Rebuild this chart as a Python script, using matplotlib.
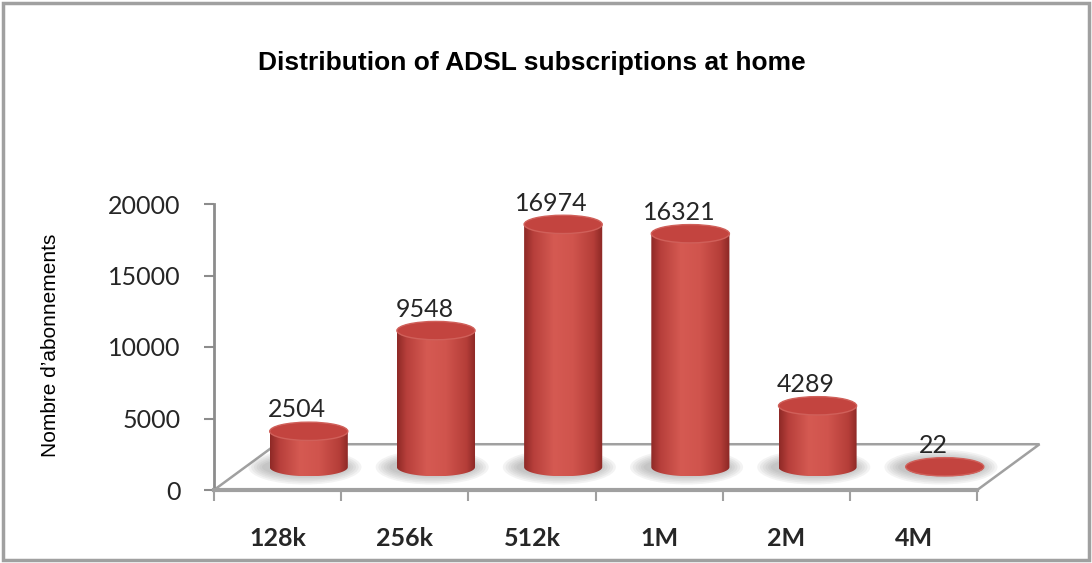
import numpy as np
import matplotlib
import matplotlib.pyplot as plt
from matplotlib.patches import Ellipse, Polygon, Rectangle
from matplotlib.colors import LinearSegmentedColormap

matplotlib.use("Agg")

speeds = ["128k", "256k", "512k", "1M", "2M", "4M"]
subscriptions = [2504, 9548, 16974, 16321, 4289, 22]
y_ticks = [0, 5000, 10000, 15000, 20000]

title = "Distribution of ADSL subscriptions at home"
ylabel = "Nombre d\u2019abonnements"

W, H = 1092, 563
px_per_cat = 127.2
xmin, xmax = -0.5, 6.1
ymax = 20000

# floor depth (in data units) and cylinder geometry
depth_x = 0.49
depth_y = 3200
cyl_halfw = 0.307
cyl_halfh = 640

body_cmap = LinearSegmentedColormap.from_list(
    "cyl",
    [
        (0.0, "#8e2926"),
        (0.12, "#b73f3b"),
        (0.38, "#d55a52"),
        (0.62, "#d0544d"),
        (0.88, "#b53e39"),
        (1.0, "#8a2724"),
    ],
)

fig = plt.figure(figsize=(W / 100, H / 100), dpi=100)
ax = fig.add_axes(
    [214 / W, 73 / H, (xmax - xmin) * px_per_cat / W, 286 / H]
)
ax.set_xlim(xmin, xmax)
ax.set_ylim(0, ymax)

# floor of the pseudo-3D chart
floor = Polygon(
    [(-0.5, 0), (5.5, 0), (5.5 + depth_x, depth_y), (-0.5 + depth_x, depth_y)],
    closed=True, facecolor="white", edgecolor="#a0a0a0", lw=1.8, zorder=1,
    clip_on=False,
)
ax.add_patch(floor)

t = np.linspace(np.pi, 2 * np.pi, 60)
grad = np.linspace(0, 1, 256).reshape(1, -1)

for i, (name, val) in enumerate(zip(speeds, subscriptions)):
    xc = i + depth_x / 2
    yb = depth_y / 2
    top = yb + val

    # soft shadow on the floor
    for k in range(6):
        s = 1.0 + 0.07 * k
        ax.add_patch(Ellipse((xc - 0.03, yb), 2 * cyl_halfw * s + 0.06,
                             2 * cyl_halfh * (1.0 + 0.18 * k),
                             facecolor="#6f6f6f", edgecolor="none",
                             alpha=0.08, zorder=2, clip_on=False))

    body_pts = [(xc + cyl_halfw * np.cos(a), yb + cyl_halfh * np.sin(a)) for a in t]
    body_pts += [(xc + cyl_halfw, top), (xc - cyl_halfw, top)]
    body = Polygon(body_pts, closed=True, facecolor="none", edgecolor="none",
                   transform=ax.transData)
    ax.add_patch(body)

    img = ax.imshow(grad, cmap=body_cmap, aspect="auto", interpolation="bilinear",
                    extent=(xc - cyl_halfw, xc + cyl_halfw, yb - cyl_halfh, top),
                    zorder=3)
    img.set_clip_path(body)
    img.set_clip_box(None)

    ax.add_patch(Ellipse((xc, top), 2 * cyl_halfw, 2 * cyl_halfh,
                         facecolor="#c3443f", edgecolor="#d0605a", lw=1.0,
                         zorder=4, clip_on=False))

    ax.annotate(f"{val}", (xc - 0.09, top + cyl_halfh), xytext=(0, 0.5),
                textcoords="offset points", ha="center", va="bottom",
                fontsize=18, family="Lato", color="#262626", zorder=5)

ax.set_xlim(xmin, xmax)
ax.set_ylim(0, ymax)

for side in ["top", "right"]:
    ax.spines[side].set_visible(False)
ax.spines["left"].set_bounds(0, ymax)
ax.spines["left"].set_color("#8c8c8c")
ax.spines["left"].set_linewidth(2)
ax.spines["bottom"].set_bounds(-0.5, 5.5)
ax.spines["bottom"].set_color("#a0a0a0")
ax.spines["bottom"].set_linewidth(3)
ax.spines["bottom"].set_zorder(6)

ax.set_yticks(y_ticks)
ax.set_yticklabels([str(v) for v in y_ticks], family="Lato", fontsize=18,
                   color="#262626")
ax.tick_params(axis="y", length=7, width=1.5, color="#8c8c8c", pad=17)

ax.set_xticks(range(len(speeds)))
ax.set_xticklabels(speeds, family="Lato", fontsize=18, fontweight="bold",
                   color="#262626")
ax.set_xticks(np.arange(-0.5, 5.6, 1.0), minor=True)
ax.tick_params(axis="x", which="major", length=0, pad=27)
ax.tick_params(axis="x", which="minor", length=8, width=1.5, color="#a0a0a0")
ax.patch.set_alpha(0)

fig.text(532 / W, 1 - 63 / H, title, ha="center", va="center",
         fontsize=19, fontweight="bold", family="Liberation Sans")
fig.text(51 / W, 1 - 345 / H, ylabel, ha="center", va="center", rotation=90,
         fontsize=15, family="Liberation Sans")

fig.add_artist(Rectangle((3 / W, 3 / H), 1 - 6 / W, 1 - 6 / H,
                         transform=fig.transFigure, facecolor="none",
                         edgecolor="#a0a0a0", lw=2.5))

fig.savefig("out.png", dpi=100)
